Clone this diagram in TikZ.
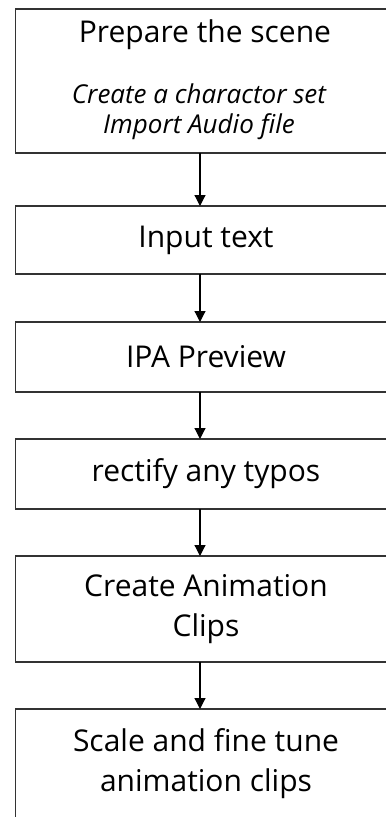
\documentclass[tikz,border=0pt]{standalone}
\usepackage{fontspec}
\setmainfont{Open Sans}
\usetikzlibrary{arrows.meta}

\begin{document}
\begin{tikzpicture}[x=1pt,y=-1pt,thick,
	stage/.style={minimum width=380pt,anchor=north,inner sep=0pt,align=center,font=\fontsize{30}{40}\selectfont},
	note/.style={align=center,font=\fontsize{26}{30}\selectfont\itshape},
	frame/.style={draw=black!80,line width=1.6pt},
	flow/.style={draw=black,line width=1.2pt,-{Triangle[width=11pt,length=11pt]}}]
			\useasboundingbox (0,0) rectangle (389,817);
			\coordinate (spine) at (200,0);
			\coordinate (edge) at (386,0);
			\node[stage,minimum height=143pt] (scene) at (206,9) {};
			\node[stage,minimum width=0pt,anchor=base] (scenetitle) at (205,42) {Prepare the scene};
			\node[note,anchor=base] (scenenote) at (199,133) {Create a charactor set\\Import Audio file};
			\node[stage,minimum height=67pt] (input) at (206,206) {Input text};
			\node[stage,minimum height=69pt] (ipa) at (206,322) {IPA Preview};
			\node[stage,minimum height=69pt] (typos) at (206,439) {rectify any typos};
			\node[stage,minimum height=105pt] (clips) at (206,556) {Create Animation\\Clips};
			\node[stage,minimum height=108pt] (tune) at (206,709) {Scale and fine tune\\animation clips};
			% boxes run off the right edge
			\draw[frame] (scene.north -| edge) -- (scene.north west) -- (scene.south west) -- (scene.south -| edge);
			\draw[frame] (input.north -| edge) -- (input.north west) -- (input.south west) -- (input.south -| edge);
			\draw[frame] (ipa.north -| edge) -- (ipa.north west) -- (ipa.south west) -- (ipa.south -| edge);
			\draw[frame] (typos.north -| edge) -- (typos.north west) -- (typos.south west) -- (typos.south -| edge);
			\draw[frame] (clips.north -| edge) -- (clips.north west) -- (clips.south west) -- (clips.south -| edge);
			\draw[frame] (tune.north -| edge) -- (tune.north west) -- (tune.south west) -- (tune.south -| edge);
			\draw[flow] (scene.south -| spine) -- (input.north -| spine);
			\draw[flow] (input.south -| spine) -- (ipa.north -| spine);
			\draw[flow] (ipa.south -| spine) -- (typos.north -| spine);
			\draw[flow] (typos.south -| spine) -- (clips.north -| spine);
			\draw[flow] (clips.south -| spine) -- (tune.north -| spine);
		\end{tikzpicture}
\end{document}
